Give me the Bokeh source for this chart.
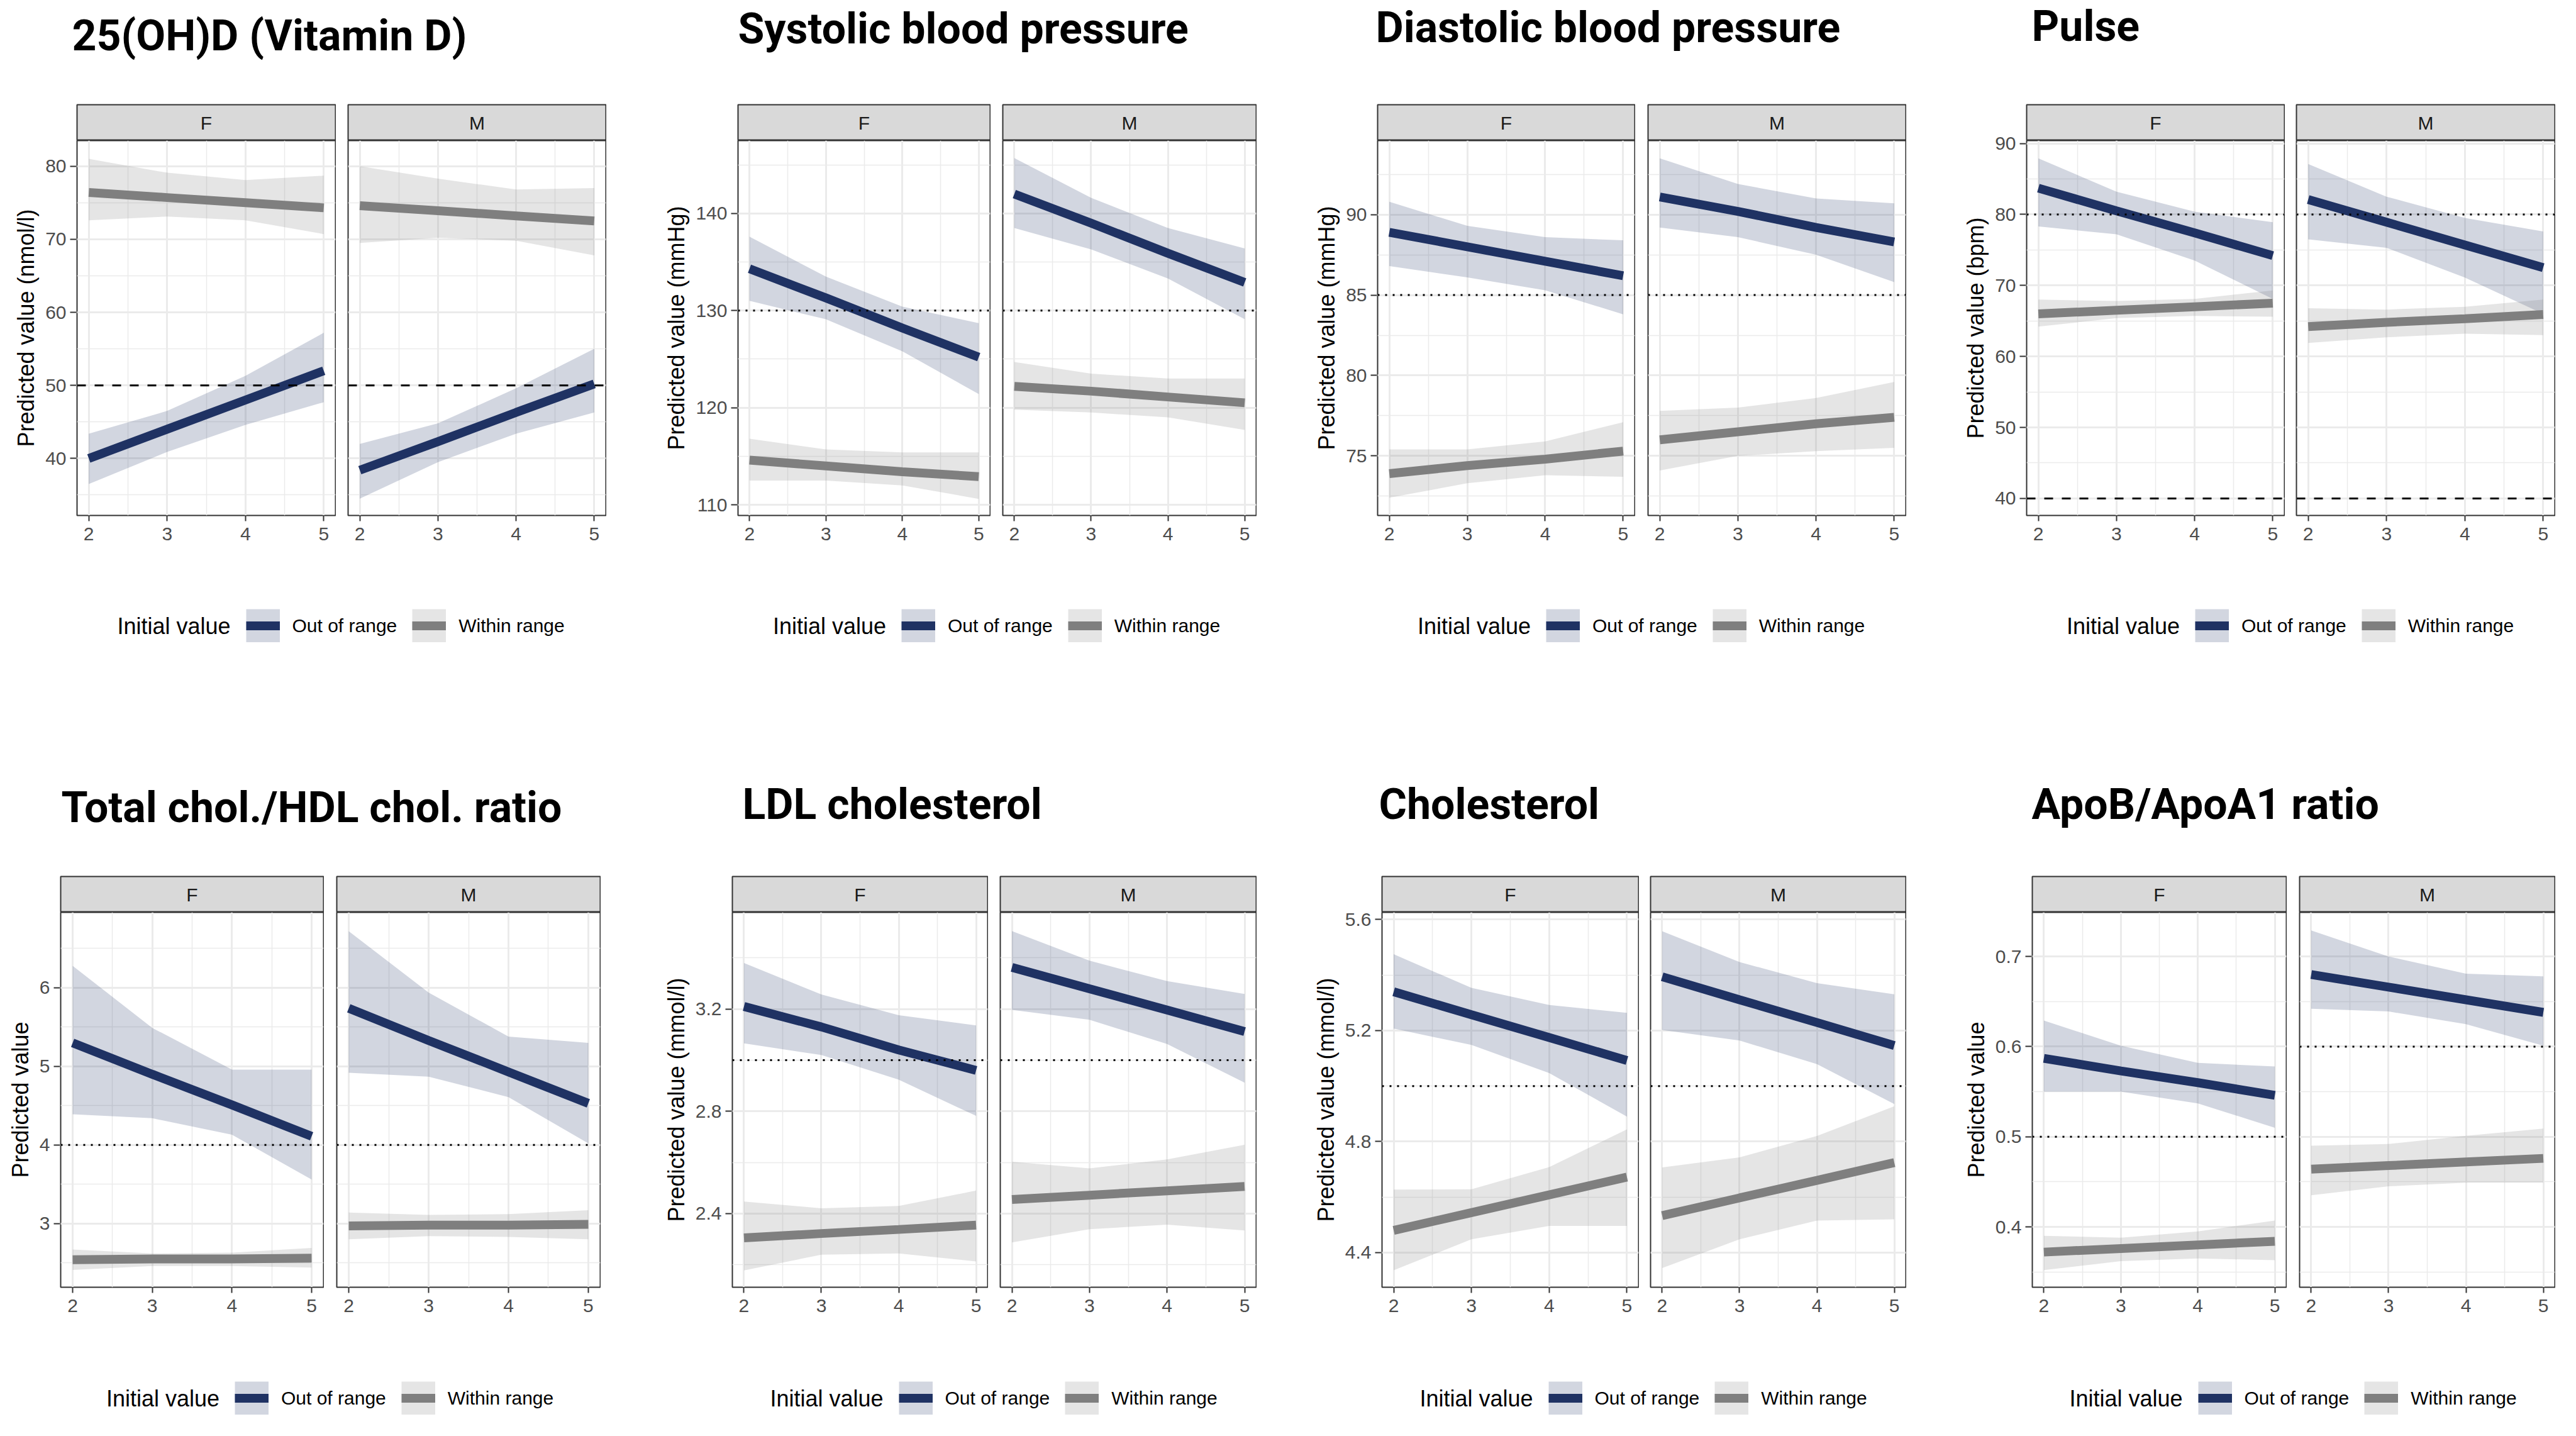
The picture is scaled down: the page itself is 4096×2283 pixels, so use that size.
from bokeh.plotting import figure
from bokeh.layouts import column, row
from bokeh.models import Range1d, FixedTicker, Span, Label, Legend, LegendItem, Spacer
from bokeh.embed import file_html
from bokeh.resources import INLINE

# ---------------- data ----------------
X = [2, 3, 4, 5]
X_TICKS = [2, 3, 4, 5]
X_MINOR = [2.5, 3.5, 4.5]
SEXES = ["F", "M"]
GROUPS = ["Out of range", "Within range"]
LEGEND_TITLE = "Initial value"

TITLES = ["25(OH)D (Vitamin D)", "Systolic blood pressure", "Diastolic blood pressure", "Pulse",
          "Total chol./HDL chol. ratio", "LDL cholesterol", "Cholesterol", "ApoB/ApoA1 ratio"]
YLABELS = ["Predicted value (nmol/l)", "Predicted value (mmHg)", "Predicted value (mmHg)",
           "Predicted value (bpm)", "Predicted value", "Predicted value (mmol/l)",
           "Predicted value (mmol/l)", "Predicted value"]
KEYS = ["vitd", "sbp", "dbp", "pulse", "tchdl", "ldl", "chol", "apo"]

Y_RANGES = [(32.2, 83.5), (108.9, 147.5), (71.3, 94.6), (37.6, 90.4),
            (2.19, 6.96), (2.112, 3.578), (4.275, 5.626), (0.333, 0.749)]
Y_TICKS = [[40, 50, 60, 70, 80], [110, 120, 130, 140], [75, 80, 85, 90], [40, 50, 60, 70, 80, 90],
           [3, 4, 5, 6], [2.4, 2.8, 3.2], [4.4, 4.8, 5.2, 5.6], [0.4, 0.5, 0.6, 0.7]]
Y_TICK_LABELS = [["40", "50", "60", "70", "80"], ["110", "120", "130", "140"], ["75", "80", "85", "90"],
                 ["40", "50", "60", "70", "80", "90"], ["3", "4", "5", "6"], ["2.4", "2.8", "3.2"],
                 ["4.4", "4.8", "5.2", "5.6"], ["0.4", "0.5", "0.6", "0.7"]]
Y_MINOR = [[35, 45, 55, 65, 75], [115, 125, 135, 145], [72.5, 77.5, 82.5, 87.5, 92.5],
           [45, 55, 65, 75, 85], [2.5, 3.5, 4.5, 5.5, 6.5], [2.2, 2.6, 3.0, 3.4],
           [4.6, 5.0, 5.4], [0.35, 0.45, 0.55, 0.65]]
# reference lines per panel and sex: (value, style)
HLINES = [
    {"F": [(50, "dashed")], "M": [(50, "dashed")]},
    {"F": [(130, "dotted")], "M": [(130, "dotted")]},
    {"F": [(85, "dotted")], "M": [(85, "dotted")]},
    {"F": [(80, "dotted"), (40, "dashed")], "M": [(80, "dotted"), (40, "dashed")]},
    {"F": [(4, "dotted")], "M": [(4, "dotted")]},
    {"F": [(3.0, "dotted")], "M": [(3.0, "dotted")]},
    {"F": [(5.0, "dotted")], "M": [(5.0, "dotted")]},
    {"F": [(0.5, "dotted")], "M": [(0.6, "dotted")]},
]

# 25(OH)D
vitd_F_out = [40.0, 44.0, 48.0, 52.0]
vitd_F_out_lo = [36.5, 40.9, 44.6, 47.7]
vitd_F_out_hi = [43.4, 46.5, 51.3, 57.2]
vitd_F_in = [76.4, 75.7, 75.0, 74.3]
vitd_F_in_lo = [72.6, 73.1, 72.6, 70.7]
vitd_F_in_hi = [81.0, 79.1, 78.1, 78.7]
vitd_M_out = [38.4, 42.3, 46.3, 50.2]
vitd_M_out_lo = [34.5, 39.5, 43.4, 46.3]
vitd_M_out_hi = [42.0, 44.8, 49.6, 55.0]
vitd_M_in = [74.6, 73.9, 73.2, 72.5]
vitd_M_in_lo = [69.5, 70.2, 69.8, 67.8]
vitd_M_in_hi = [80.0, 78.3, 76.8, 77.0]
# Systolic
sbp_F_out = [134.3, 131.3, 128.2, 125.2]
sbp_F_out_lo = [131.0, 129.1, 125.8, 121.4]
sbp_F_out_hi = [137.6, 133.5, 130.4, 128.7]
sbp_F_in = [114.6, 114.0, 113.4, 112.9]
sbp_F_in_lo = [112.5, 112.5, 112.0, 110.6]
sbp_F_in_hi = [116.8, 115.7, 115.4, 115.4]
sbp_M_out = [142.0, 139.0, 135.9, 132.9]
sbp_M_out_lo = [138.5, 136.3, 133.3, 129.1]
sbp_M_out_hi = [145.7, 141.6, 138.5, 136.4]
sbp_M_in = [122.2, 121.7, 121.1, 120.5]
sbp_M_in_lo = [119.8, 119.5, 119.0, 117.7]
sbp_M_in_hi = [124.7, 123.5, 123.0, 123.0]
# Diastolic
dbp_F_out = [88.9, 88.0, 87.1, 86.2]
dbp_F_out_lo = [86.8, 86.1, 85.3, 83.8]
dbp_F_out_hi = [90.8, 89.3, 88.6, 88.4]
dbp_F_in = [73.9, 74.4, 74.8, 75.3]
dbp_F_in_lo = [72.4, 73.3, 73.8, 73.7]
dbp_F_in_hi = [75.4, 75.4, 75.9, 77.1]
dbp_M_out = [91.1, 90.2, 89.2, 88.3]
dbp_M_out_lo = [89.2, 88.6, 87.5, 85.8]
dbp_M_out_hi = [93.5, 91.9, 91.0, 90.7]
dbp_M_in = [76.0, 76.5, 77.0, 77.4]
dbp_M_in_lo = [74.1, 75.0, 75.3, 75.5]
dbp_M_in_hi = [77.8, 78.0, 78.6, 79.6]
# Pulse
pulse_F_out = [83.7, 80.5, 77.4, 74.2]
pulse_F_out_lo = [78.3, 77.2, 73.5, 68.1]
pulse_F_out_hi = [87.9, 83.2, 80.4, 78.9]
pulse_F_in = [66.0, 66.5, 67.0, 67.5]
pulse_F_in_lo = [64.2, 65.4, 65.7, 65.6]
pulse_F_in_hi = [68.0, 67.8, 68.1, 69.3]
pulse_M_out = [82.1, 78.9, 75.7, 72.5]
pulse_M_out_lo = [76.5, 75.3, 71.1, 66.0]
pulse_M_out_hi = [87.1, 82.5, 79.5, 77.6]
pulse_M_in = [64.2, 64.8, 65.3, 65.9]
pulse_M_in_lo = [61.9, 62.7, 63.2, 63.0]
pulse_M_in_hi = [66.8, 66.6, 67.0, 68.0]
# Total chol / HDL
tchdl_F_out = [5.30, 4.90, 4.51, 4.11]
tchdl_F_out_lo = [4.39, 4.34, 4.13, 3.56]
tchdl_F_out_hi = [6.28, 5.49, 4.96, 4.96]
tchdl_F_in = [2.54, 2.55, 2.55, 2.56]
tchdl_F_in_lo = [2.41, 2.46, 2.46, 2.44]
tchdl_F_in_hi = [2.67, 2.62, 2.63, 2.69]
tchdl_M_out = [5.74, 5.33, 4.93, 4.53]
tchdl_M_out_lo = [4.92, 4.87, 4.61, 4.02]
tchdl_M_out_hi = [6.72, 5.94, 5.38, 5.30]
tchdl_M_in = [2.97, 2.98, 2.98, 2.99]
tchdl_M_in_lo = [2.80, 2.84, 2.83, 2.80]
tchdl_M_in_hi = [3.14, 3.11, 3.12, 3.17]
# LDL
ldl_F_out = [3.21, 3.13, 3.04, 2.96]
ldl_F_out_lo = [3.066, 3.02, 2.924, 2.782]
ldl_F_out_hi = [3.38, 3.257, 3.176, 3.136]
ldl_F_in = [2.305, 2.322, 2.338, 2.355]
ldl_F_in_lo = [2.178, 2.239, 2.244, 2.213]
ldl_F_in_hi = [2.447, 2.421, 2.43, 2.49]
ldl_M_out = [3.363, 3.279, 3.196, 3.112]
ldl_M_out_lo = [3.197, 3.158, 3.063, 2.912]
ldl_M_out_hi = [3.505, 3.389, 3.309, 3.259]
ldl_M_in = [2.455, 2.472, 2.489, 2.506]
ldl_M_in_lo = [2.287, 2.339, 2.357, 2.334]
ldl_M_in_hi = [2.603, 2.577, 2.612, 2.669]
# Cholesterol
chol_F_out = [5.340, 5.257, 5.175, 5.092]
chol_F_out_lo = [5.207, 5.148, 5.047, 4.890]
chol_F_out_hi = [5.475, 5.354, 5.292, 5.264]
chol_F_in = [4.480, 4.544, 4.608, 4.672]
chol_F_in_lo = [4.336, 4.448, 4.496, 4.496]
chol_F_in_hi = [4.627, 4.628, 4.708, 4.844]
chol_M_out = [5.394, 5.311, 5.229, 5.146]
chol_M_out_lo = [5.202, 5.164, 5.079, 4.935]
chol_M_out_hi = [5.558, 5.447, 5.371, 5.331]
chol_M_in = [4.533, 4.597, 4.660, 4.724]
chol_M_in_lo = [4.344, 4.448, 4.515, 4.520]
chol_M_in_hi = [4.707, 4.743, 4.820, 4.927]
# ApoB/ApoA1
apo_F_out = [0.587, 0.573, 0.560, 0.546]
apo_F_out_lo = [0.550, 0.550, 0.537, 0.510]
apo_F_out_hi = [0.629, 0.601, 0.582, 0.578]
apo_F_in = [0.372, 0.376, 0.380, 0.384]
apo_F_in_lo = [0.352, 0.362, 0.365, 0.363]
apo_F_in_hi = [0.390, 0.388, 0.395, 0.407]
apo_M_out = [0.680, 0.666, 0.652, 0.638]
apo_M_out_lo = [0.642, 0.639, 0.625, 0.601]
apo_M_out_hi = [0.729, 0.700, 0.681, 0.678]
apo_M_in = [0.464, 0.468, 0.472, 0.476]
apo_M_in_lo = [0.435, 0.445, 0.449, 0.449]
apo_M_in_hi = [0.490, 0.492, 0.501, 0.509]

# ---------------- style ----------------
NAVY = "#1F3263"
GREY = "#7F7F7F"
FONT = "Liberation Sans"
TFONT = "Roboto"
DASH = {"dashed": "14 14", "dotted": "3 9"}
LINE_W = 14

# layout geometry (page pixels, layout origin at page 0)
TOP_COLS = [(122, 533, 553, 963), (1173, 1574, 1594, 1997), (2190, 2599, 2620, 3030), (3222, 3632, 3651, 4062)]
BOT_COLS = [(96, 514, 535, 954), (1164, 1570, 1590, 1997), (2197, 2605, 2624, 3030), (3231, 3635, 3656, 4062)]
TOP_TITLE_X = [114, 1173, 2187, 3230]
BOT_TITLE_X = [97, 1180, 2192, 3230]
TOP_TITLE_BASE = [82.6, 71.0, 69.0, 67.7]      # page y of title baselines
BOT_TITLE_BASE = [1309.0, 1304.0, 1304.0, 1304.0]
BASELINE_FIX = 26
PAGE_W = 4090
FRAME_H = 596
STRIP_H = 58
AX_B = 62
BAND_H = STRIP_H + FRAME_H + AX_B


def series(key):
    g = globals()
    return {s: {k: g[f"{key}_{s}_{k}"] for k in ("out", "out_lo", "out_hi", "in", "in_lo", "in_hi")}
            for s in SEXES}


def blank(width, height):
    p = figure(width=width, height=height, x_range=Range1d(0, 1), y_range=Range1d(0, 1),
               x_axis_location=None, y_axis_location=None,
               toolbar_location=None, output_backend="svg", title=None,
               min_border_left=0, min_border_right=0, min_border_top=0, min_border_bottom=0)
    p.grid.visible = False
    p.outline_line_color = None
    return p


def style_axis(ax):
    ax.axis_line_color = None
    ax.major_tick_line_color = "#333333"
    ax.major_tick_line_width = 2
    ax.minor_tick_line_color = None
    ax.major_label_text_font = FONT
    ax.major_label_text_font_size = "30px"
    ax.major_label_text_color = "#4D4D4D"


def make_yaxis_fig(i, yr, width):
    # narrow figure that only carries the y axis of a panel (ticks, labels, title)
    p = figure(width=width, height=BAND_H, x_range=Range1d(0, 1), y_range=yr,
               x_axis_location=None, toolbar_location=None, output_backend="svg", title=None,
               min_border_left=width - 1, min_border_right=0,
               min_border_top=STRIP_H, min_border_bottom=AX_B)
    p.grid.visible = False
    p.outline_line_color = None
    ax = p.yaxis[0]
    ax.ticker = FixedTicker(ticks=Y_TICKS[i], minor_ticks=Y_MINOR[i])
    style_axis(ax)
    ax.major_tick_out = 9
    ax.major_tick_in = 2
    ax.major_label_standoff = 6
    ax.major_label_overrides = {t: l for t, l in zip(Y_TICKS[i], Y_TICK_LABELS[i])}
    ax.axis_label = YLABELS[i]
    ax.axis_label_text_font = FONT
    ax.axis_label_text_font_size = "36px"
    ax.axis_label_text_font_style = "normal"
    ax.axis_label_text_color = "black"
    ax.axis_label_standoff = 7
    return p


def make_facet(i, sex, yr, fw):
    d = series(KEYS[i])[sex]
    p = figure(width=fw + 2, height=FRAME_H + AX_B, x_range=Range1d(1.85, 5.15), y_range=yr,
               toolbar_location=None, output_backend="svg", title=None,
               min_border_left=1, min_border_right=1, min_border_top=0, min_border_bottom=AX_B)
    p.outline_line_color = "#333333"
    p.outline_line_width = 2
    xt = FixedTicker(ticks=X_TICKS, minor_ticks=X_MINOR)
    yt = FixedTicker(ticks=Y_TICKS[i], minor_ticks=Y_MINOR[i])
    p.xaxis.ticker = xt
    p.yaxis.ticker = yt
    p.xgrid.ticker = xt
    p.ygrid.ticker = yt
    p.yaxis.visible = False
    for g in (p.xgrid[0], p.ygrid[0]):
        g.grid_line_color = "#EBEBEB"
        g.grid_line_width = 3
        g.minor_grid_line_color = "#EBEBEB"
        g.minor_grid_line_width = 1.5
    ax = p.xaxis[0]
    style_axis(ax)
    ax.major_tick_out = 9
    ax.major_tick_in = 0
    ax.major_label_standoff = 10
    p.varea(x=X, y1=d["out_lo"], y2=d["out_hi"], fill_color=NAVY, fill_alpha=0.2)
    p.varea(x=X, y1=d["in_lo"], y2=d["in_hi"], fill_color=GREY, fill_alpha=0.2)
    p.line(X, d["out"], line_color=NAVY, line_width=LINE_W)
    p.line(X, d["in"], line_color=GREY, line_width=LINE_W)
    for v, style in HLINES[i][sex]:
        p.add_layout(Span(location=v, dimension="width", line_color="black", line_width=3,
                          line_dash=DASH[style]))
    return p


def make_strip(fw, text):
    s = figure(width=fw + 2, height=STRIP_H, x_range=Range1d(0, 1), y_range=Range1d(0, 1),
               x_axis_location=None, y_axis_location=None, toolbar_location=None,
               output_backend="svg", title=None,
               min_border_left=1, min_border_right=1, min_border_top=1, min_border_bottom=0)
    s.grid.visible = False
    s.background_fill_color = "#D9D9D9"
    s.outline_line_color = "#333333"
    s.outline_line_width = 2
    s.add_layout(Label(x=0.5, y=0.5, text=text, text_align="center", text_baseline="middle",
                       text_font=FONT, text_font_size="30px", text_color="#1A1A1A"))
    return s


def panel_band(cols, idx):
    children = []
    cur = 0
    for (FL, FR, ML, MR), i in zip(cols, idx):
        yr = Range1d(*Y_RANGES[i])
        # y axis figure: from cur to FL-1
        children.append(make_yaxis_fig(i, yr, FL - 1 - cur))
        # F column: FL-1 .. FR+1
        children.append(column(make_strip(FR - FL, SEXES[0]), make_facet(i, "F", yr, FR - FL)))
        gap = (ML - 1) - (FR + 1)
        if gap > 0:
            children.append(Spacer(width=gap, height=BAND_H))
        children.append(column(make_strip(MR - ML, SEXES[1]), make_facet(i, "M", yr, MR - ML)))
        cur = MR + 1
    return row(children)


def title_band(height, band_top, xs, bases, idx):
    p = blank(PAGE_W, height)
    for x, b, i in zip(xs, bases, idx):
        p.add_layout(Label(x=x, y=band_top + height - b + BASELINE_FIX, x_units="screen", y_units="screen",
                           text=TITLES[i], text_font=TFONT, text_font_style="bold",
                           text_font_size="68px", text_color="black", text_baseline="alphabetic"))
    return p


def legend_band(height, cols, center_from_bottom):
    p = blank(PAGE_W, height)
    nan = float("nan")
    bg_out = p.line(x=[nan], y=[nan], line_color=NAVY, line_alpha=0.2, line_width=53)
    fg_out = p.line(x=[nan], y=[nan], line_color=NAVY, line_width=LINE_W)
    bg_in = p.line(x=[nan], y=[nan], line_color=GREY, line_alpha=0.2, line_width=53)
    fg_in = p.line(x=[nan], y=[nan], line_color=GREY, line_width=LINE_W)
    for (FL, FR, ML, MR) in cols:
        cx = (FL + MR) / 2
        leg = Legend(items=[LegendItem(label=GROUPS[0], renderers=[bg_out, fg_out]),
                            LegendItem(label=GROUPS[1], renderers=[bg_in, fg_in])],
                     location=(cx - 152, center_from_bottom - 26.5), orientation="horizontal",
                     glyph_width=54, glyph_height=53, label_standoff=20, spacing=24,
                     padding=0, margin=0, border_line_color=None, background_fill_alpha=0,
                     label_text_font=FONT, label_text_font_size="30px", label_text_color="black")
        p.add_layout(leg)
        p.add_layout(Label(x=cx - 356.6, y=center_from_bottom, x_units="screen", y_units="screen",
                           text=LEGEND_TITLE, text_font=FONT, text_font_size="36px",
                           text_color="black", text_baseline="middle"))
    return p


page = column(
    title_band(165, 0, TOP_TITLE_X, TOP_TITLE_BASE, [0, 1, 2, 3]),
    panel_band(TOP_COLS, [0, 1, 2, 3]),
    legend_band(220, TOP_COLS, 106.5),
    title_band(291, 1101, BOT_TITLE_X, BOT_TITLE_BASE, [4, 5, 6, 7]),
    panel_band(BOT_COLS, [4, 5, 6, 7]),
    legend_band(175, BOT_COLS, 60.5),
)

open("out.html", "w").write(file_html(page, INLINE))
